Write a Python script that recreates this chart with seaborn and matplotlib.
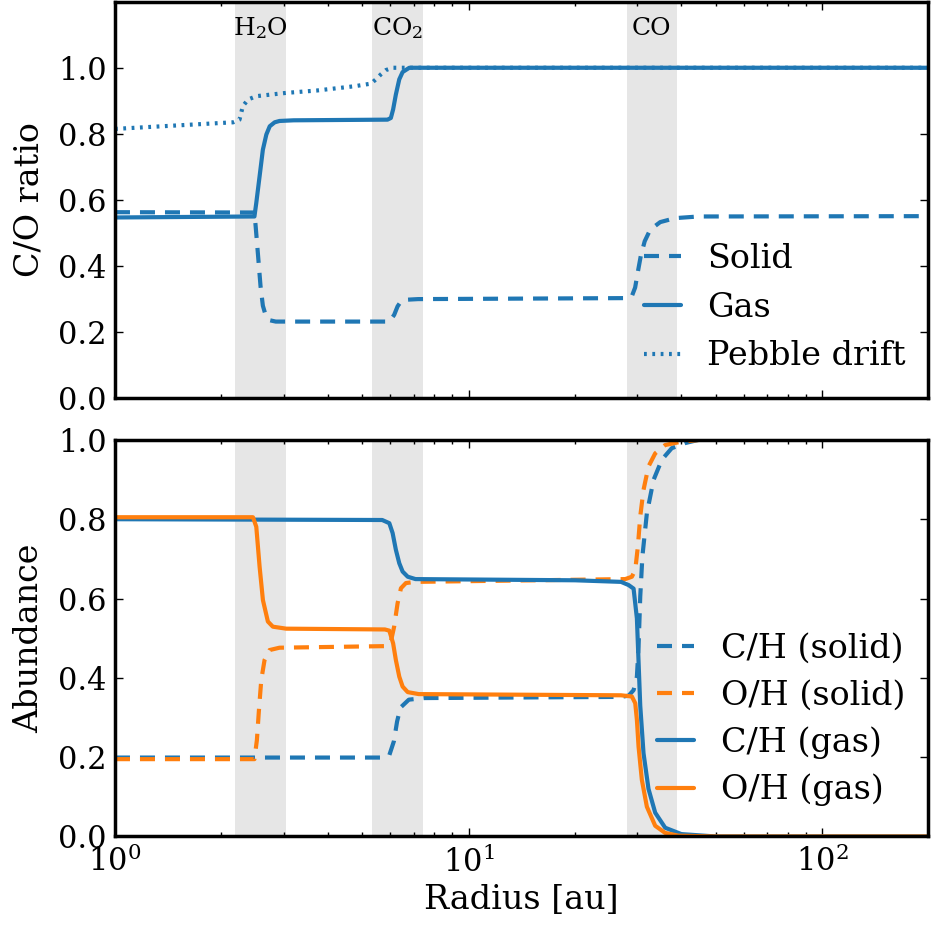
import numpy as np
import matplotlib
matplotlib.use("Agg")
import matplotlib.pyplot as plt
import seaborn as sns

# ice lines (radius ranges in au)
band_names = ['H$_2$O', 'CO$_2$', 'CO']
band_lo = [2.19, 5.33, 28.0]
band_hi = [3.05, 7.44, 38.9]

# --- C/O ratio (top panel) ---
r_co_solid = [1.0, 2.48, 2.50, 2.54, 2.58, 2.62, 2.67, 2.74, 2.85, 5.97, 6.16, 6.30, 6.44, 6.65, 7.2,
              27.76, 29.0, 29.6, 30.1, 30.7, 31.5, 32.65, 34.85, 38.4, 44.7, 200.0]
co_solid = [0.563, 0.562, 0.52, 0.43, 0.34, 0.28, 0.25, 0.236, 0.232, 0.232, 0.252, 0.278, 0.293, 0.298, 0.300,
            0.303, 0.310, 0.335, 0.380, 0.430, 0.475, 0.510, 0.533, 0.545, 0.550, 0.551]

r_co_gas = [1.0, 2.48, 2.51, 2.565, 2.62, 2.68, 2.74, 2.83, 2.92, 3.2, 5.90, 6.03, 6.12, 6.23, 6.37, 6.51,
            6.80, 200.0]
co_gas = [0.547, 0.550, 0.591, 0.672, 0.752, 0.798, 0.823, 0.835, 0.839, 0.841, 0.843, 0.848, 0.874, 0.919,
          0.965, 0.987, 1.0, 1.0]

r_co_drift = [1.0, 2.16, 2.25, 2.30, 2.38, 2.51, 3.05, 3.71, 4.75, 5.30, 5.47, 5.65, 5.84, 6.10, 200.0]
co_drift = [0.815, 0.835, 0.843, 0.884, 0.904, 0.914, 0.924, 0.931, 0.944, 0.952, 0.965, 0.980, 0.993, 1.0, 1.0]

# --- abundances (bottom panel) ---
r_ch_solid = [1.0, 5.70, 5.97, 6.15, 6.28, 6.42, 6.78, 7.5, 27.0, 28.36, 29.30, 29.94, 30.27, 30.60, 31.03,
              31.95, 33.37, 35.22, 37.56, 41.0, 44.7, 200.0]
ch_solid = [0.199, 0.199, 0.205, 0.240, 0.290, 0.325, 0.345, 0.349, 0.352, 0.355, 0.369, 0.403, 0.479, 0.605,
            0.706, 0.815, 0.899, 0.950, 0.979, 0.992, 1.0, 1.0]

r_oh_solid = [1.0, 2.48, 2.52, 2.554, 2.593, 2.649, 2.736, 2.92, 5.84, 6.03, 6.16, 6.30, 6.44, 6.65, 7.08,
              27.76, 28.98, 29.62, 30.13, 30.60, 31.26, 32.29, 33.73, 35.98, 39.26, 45.0, 200.0]
oh_solid = [0.195, 0.195, 0.243, 0.319, 0.395, 0.445, 0.470, 0.476, 0.480, 0.491, 0.529, 0.588, 0.626, 0.639,
            0.642, 0.649, 0.655, 0.672, 0.731, 0.807, 0.874, 0.933, 0.966, 0.987, 0.994, 1.0, 1.0]

r_ch_gas = [1.0, 5.70, 5.97, 6.10, 6.23, 6.37, 6.51, 6.73, 7.08, 20.0, 27.0, 28.36, 29.30, 29.94, 30.6,
            31.26, 32.29, 33.73, 36.0, 40.0, 50.0, 200.0]
ch_gas = [0.800, 0.798, 0.790, 0.765, 0.723, 0.689, 0.668, 0.655, 0.649, 0.646, 0.642, 0.634, 0.625, 0.55,
          0.33, 0.21, 0.12, 0.06, 0.022, 0.006, 0.0, 0.0]

r_oh_gas = [1.0, 2.456, 2.51, 2.565, 2.621, 2.707, 2.796, 3.05, 5.80, 5.97, 6.12, 6.23, 6.37, 6.51, 6.73,
            7.23, 27.0, 28.98, 29.62, 29.94, 30.27, 30.92, 31.95, 33.73, 35.98, 39.26, 50.0, 200.0]
oh_gas = [0.805, 0.805, 0.781, 0.680, 0.596, 0.542, 0.529, 0.524, 0.522, 0.519, 0.487, 0.445, 0.403, 0.378,
          0.364, 0.359, 0.356, 0.353, 0.336, 0.294, 0.226, 0.143, 0.075, 0.027, 0.009, 0.002, 0.0, 0.0]

blue = '#1f77b4'
orange = '#ff7f0e'
lw = 3
dashed = (0, (3.6, 2.4))
dotted = (0, (0.67, 1.33))

sns.set_style('ticks', {'xtick.direction': 'in', 'ytick.direction': 'in'})
plt.rcParams.update({
    'font.family': ['DejaVu Serif'],
    'mathtext.fontset': 'dejavuserif',
    'text.color': 'black',
    'axes.labelcolor': 'black',
    'xtick.color': 'black',
    'ytick.color': 'black',
    'axes.linewidth': 2.5,
    'axes.edgecolor': 'black',
    'xtick.top': True,
    'ytick.right': True,
    'xtick.major.size': 6,
    'ytick.major.size': 6,
    'xtick.minor.size': 3,
    'ytick.minor.size': 3,
    'xtick.major.width': 1,
    'ytick.major.width': 1,
    'xtick.minor.width': 1,
    'ytick.minor.width': 1,
    'xtick.major.pad': 7,
    'ytick.major.pad': 6,
    'xtick.labelsize': 22,
    'ytick.labelsize': 22,
    'axes.labelsize': 24,
    'legend.fontsize': 24,
})

fig, (ax1, ax2) = plt.subplots(2, 1, figsize=(9.31, 9.25), dpi=100, sharex=True)
fig.subplots_adjust(left=0.1235, right=0.9973, top=0.9982, bottom=0.0957, hspace=0.105)

for ax in (ax1, ax2):
    for lo, hi in zip(band_lo, band_hi):
        ax.axvspan(lo, hi, color='0.9', lw=0, zorder=0)

for name, lo, hi in zip(band_names, band_lo, band_hi):
    ax1.text(np.sqrt(lo * hi), 1.1, name, ha='center', va='baseline', fontsize=18)

sns.lineplot(x=r_co_solid, y=co_solid, ax=ax1, color=blue, linestyle=dashed, lw=lw,
             label='Solid', estimator=None, sort=False)
sns.lineplot(x=r_co_gas, y=co_gas, ax=ax1, color=blue, lw=lw,
             label='Gas', estimator=None, sort=False)
sns.lineplot(x=r_co_drift, y=co_drift, ax=ax1, color=blue, linestyle=dotted, lw=lw,
             label='Pebble drift', estimator=None, sort=False)

sns.lineplot(x=r_ch_solid, y=ch_solid, ax=ax2, color=blue, linestyle=dashed, lw=lw,
             label='C/H (solid)', estimator=None, sort=False)
sns.lineplot(x=r_oh_solid, y=oh_solid, ax=ax2, color=orange, linestyle=dashed, lw=lw,
             label='O/H (solid)', estimator=None, sort=False)
sns.lineplot(x=r_ch_gas, y=ch_gas, ax=ax2, color=blue, lw=lw,
             label='C/H (gas)', estimator=None, sort=False)
sns.lineplot(x=r_oh_gas, y=oh_gas, ax=ax2, color=orange, lw=lw,
             label='O/H (gas)', estimator=None, sort=False)

ax2.set_xscale('log')
ax2.set_xlim(1, 200)
ax1.set_ylim(0, 1.2)
ax1.set_yticks([0.0, 0.2, 0.4, 0.6, 0.8, 1.0])
ax2.set_ylim(0, 1.0)
ax2.set_yticks([0.0, 0.2, 0.4, 0.6, 0.8, 1.0])

ax1.set_ylabel('C/O ratio', labelpad=9)
ax2.set_ylabel('Abundance', labelpad=9)
ax2.set_xlabel('Radius [au]')

for ax in (ax1, ax2):
    ax.tick_params(which='both', direction='in', top=True, right=True)
    for s in ax.spines.values():
        s.set_linewidth(2.5)

ax1.legend(loc='lower right', bbox_to_anchor=(1.009, -0.01), frameon=False,
           handlelength=1.1, handletextpad=0.8)
ax2.legend(loc='lower right', bbox_to_anchor=(1.008, 0.0), frameon=False,
           handlelength=1.1, handletextpad=0.8, labelspacing=0.44)

fig.savefig('out.png', dpi=100)
